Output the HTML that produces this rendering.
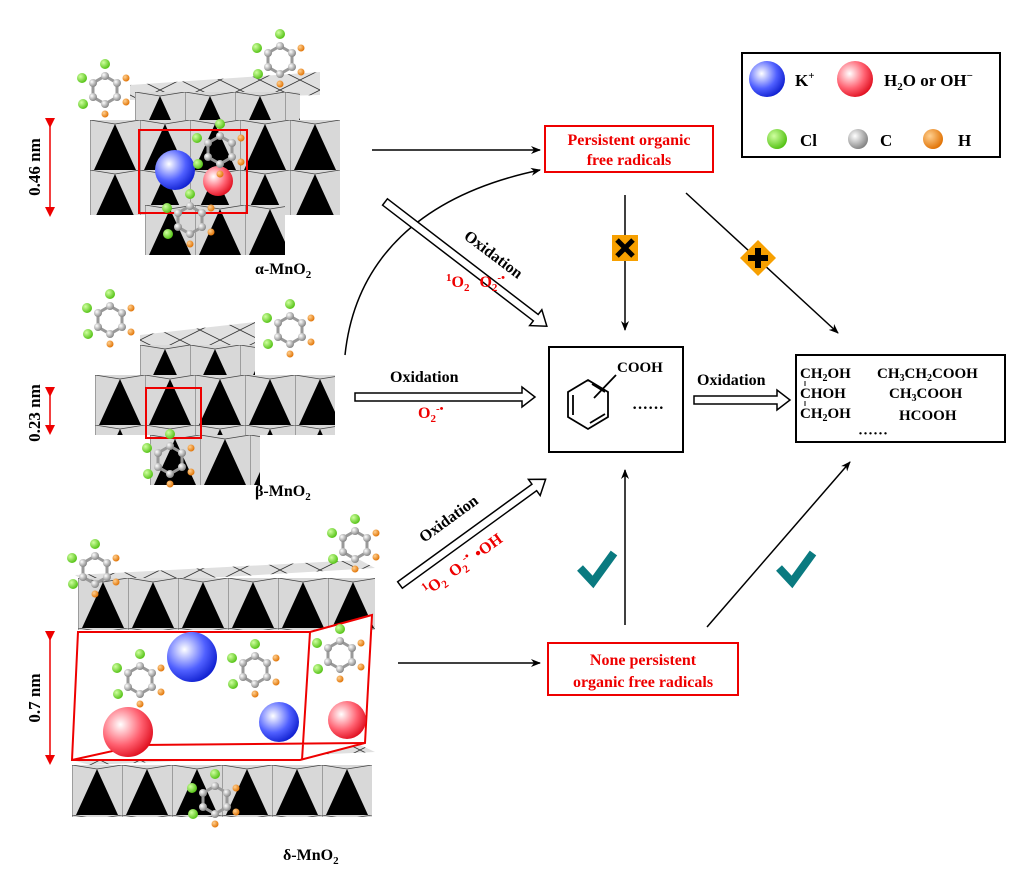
<!DOCTYPE html>
<html><head><meta charset="utf-8"><style>
body{margin:0;background:#fff}
svg{display:block;font-family:"Liberation Serif",serif;font-weight:bold}
</style></head><body>
<svg width="1029" height="892" viewBox="0 0 1029 892" xmlns="http://www.w3.org/2000/svg">
<defs>
<radialGradient id="gb" cx="0.35" cy="0.35" r="0.7"><stop offset="0" stop-color="#fff"/><stop offset="0.6" stop-color="#5060ff"/><stop offset="1" stop-color="#1020d0"/></radialGradient>
<radialGradient id="gr" cx="0.35" cy="0.35" r="0.7"><stop offset="0" stop-color="#fff"/><stop offset="0.6" stop-color="#ff6070"/><stop offset="1" stop-color="#e01020"/></radialGradient>
<radialGradient id="gg" cx="0.35" cy="0.35" r="0.7"><stop offset="0" stop-color="#d0ffa0"/><stop offset="1" stop-color="#50c010"/></radialGradient>
<radialGradient id="gc" cx="0.35" cy="0.35" r="0.7"><stop offset="0" stop-color="#fff"/><stop offset="1" stop-color="#808080"/></radialGradient>
<radialGradient id="go" cx="0.35" cy="0.35" r="0.7"><stop offset="0" stop-color="#ffd090"/><stop offset="1" stop-color="#e07000"/></radialGradient>
<pattern id="oct" width="50" height="50" patternUnits="userSpaceOnUse">
<rect width="50" height="50" fill="#d8d8d8"/>
<polygon points="4,50 25,4 46,50" fill="#000"/>
<path d="M0 0V50M0 0L25 4L50 0" stroke="#444" stroke-width="0.8" fill="none"/>
</pattern>
<pattern id="top" width="40" height="20" patternUnits="userSpaceOnUse">
<rect width="40" height="20" fill="#e0e0e0"/>
<path d="M0 10L20 0L40 10L20 20Z" stroke="#333" stroke-width="0.8" fill="none"/>
</pattern>
<marker id="ah" markerWidth="10" markerHeight="10" refX="9" refY="5" orient="auto" markerUnits="userSpaceOnUse"><path d="M0 1L10 5L0 9L3 5Z" fill="#000"/></marker>
<marker id="rh" markerWidth="10" markerHeight="10" refX="5" refY="5" orient="auto" markerUnits="userSpaceOnUse"><path d="M0 0L10 5L0 10Z" fill="#e00"/></marker>
<g id="mol">
<polygon points="0,-14 12,-7 12,7 0,14 -12,7 -12,-7" fill="none" stroke="#999" stroke-width="3"/>
<circle cx="0" cy="-14" r="4" fill="url(#gc)"/><circle cx="12" cy="-7" r="4" fill="url(#gc)"/><circle cx="12" cy="7" r="4" fill="url(#gc)"/><circle cx="0" cy="14" r="4" fill="url(#gc)"/><circle cx="-12" cy="7" r="4" fill="url(#gc)"/><circle cx="-12" cy="-7" r="4" fill="url(#gc)"/>
<circle cx="0" cy="-26" r="5" fill="url(#gg)"/><circle cx="-23" cy="-12" r="5" fill="url(#gg)"/><circle cx="-22" cy="14" r="5" fill="url(#gg)"/>
<circle cx="21" cy="-12" r="3.5" fill="url(#go)"/><circle cx="21" cy="12" r="3.5" fill="url(#go)"/><circle cx="0" cy="24" r="3.5" fill="url(#go)"/>
</g>
</defs>

<!-- alpha -->
<polygon points="130,85 320,72 320,95 130,100" fill="url(#top)"/>
<g transform="translate(135,92)"><rect width="165" height="30" fill="url(#oct)"/></g>
<g transform="translate(90,120)"><rect width="250" height="95" fill="url(#oct)"/></g>
<g transform="translate(145,205)"><rect width="140" height="50" fill="url(#oct)"/></g>
<rect x="139" y="130" width="108" height="83" fill="none" stroke="#e00" stroke-width="2"/>
<circle cx="175" cy="170" r="20" fill="url(#gb)"/>
<circle cx="218" cy="181" r="15" fill="url(#gr)"/>
<use href="#mol" x="105" y="90"/><use href="#mol" x="280" y="60"/><use href="#mol" x="220" y="150"/><use href="#mol" x="190" y="220"/>
<text x="255" y="274" font-size="16">α-MnO<tspan font-size="11" dy="4">2</tspan></text>
<line x1="50" y1="123" x2="50" y2="212" stroke="#e00" stroke-width="1.5" marker-start="url(#rh)" marker-end="url(#rh)"/>
<text transform="translate(40,167) rotate(-90)" font-size="17" text-anchor="middle">0.46 nm</text>

<!-- beta -->
<polygon points="140,335 255,322 255,345 140,350" fill="url(#top)"/>
<g transform="translate(140,345)"><rect width="115" height="35" fill="url(#oct)"/></g>
<g transform="translate(95,375)"><rect width="240" height="60" fill="url(#oct)"/></g>
<g transform="translate(150,435)"><rect width="110" height="50" fill="url(#oct)"/></g>
<rect x="146" y="388" width="55" height="50" fill="none" stroke="#e00" stroke-width="2"/>
<use href="#mol" x="110" y="320"/><use href="#mol" x="290" y="330"/><use href="#mol" x="170" y="460"/>
<text x="255" y="496" font-size="16">β-MnO<tspan font-size="11" dy="4">2</tspan></text>
<line x1="50" y1="392" x2="50" y2="430" stroke="#e00" stroke-width="1.5" marker-start="url(#rh)" marker-end="url(#rh)"/>
<text transform="translate(40,413) rotate(-90)" font-size="17" text-anchor="middle">0.23 nm</text>

<!-- delta -->
<polygon points="75,575 360,560 375,568 90,585" fill="url(#top)"/>
<g transform="translate(78,578)"><rect width="297" height="52" fill="url(#oct)"/></g>
<polygon points="72,760 360,745 375,752 90,765" fill="url(#top)"/>
<g transform="translate(72,765)"><rect width="300" height="52" fill="url(#oct)"/></g>
<polygon points="78,632 310,632 372,615 365,743 300,760 72,760" fill="#fff" stroke="#e00" stroke-width="2"/>
<path d="M310 632L302 760M72 760L140 745L365 743" stroke="#e00" stroke-width="2" fill="none"/>
<use href="#mol" x="140" y="680"/><use href="#mol" x="255" y="670"/><use href="#mol" x="340" y="655"/>
<use href="#mol" x="95" y="570"/><use href="#mol" x="355" y="545"/><use href="#mol" x="215" y="800"/>
<circle cx="192" cy="657" r="25" fill="url(#gb)"/>
<circle cx="128" cy="732" r="25" fill="url(#gr)"/>
<circle cx="279" cy="722" r="20" fill="url(#gb)"/>
<circle cx="347" cy="720" r="19" fill="url(#gr)"/>
<text x="283" y="860" font-size="16">δ-MnO<tspan font-size="11" dy="4">2</tspan></text>
<line x1="50" y1="636" x2="50" y2="760" stroke="#e00" stroke-width="1.5" marker-start="url(#rh)" marker-end="url(#rh)"/>
<text transform="translate(40,698) rotate(-90)" font-size="17" text-anchor="middle">0.7 nm</text>

<!-- legend -->
<rect x="742" y="53" width="258" height="104" fill="#fff" stroke="#000" stroke-width="2"/>
<circle cx="767" cy="79" r="18" fill="url(#gb)"/><text x="795" y="86" font-size="17">K<tspan font-size="11" dy="-7">+</tspan></text>
<circle cx="855" cy="79" r="18" fill="url(#gr)"/><text x="884" y="86" font-size="17">H<tspan font-size="11" dy="4">2</tspan><tspan dy="-4">O or OH</tspan><tspan font-size="11" dy="-7">−</tspan></text>
<circle cx="777" cy="139" r="10" fill="url(#gg)"/><text x="800" y="146" font-size="17">Cl</text>
<circle cx="858" cy="139" r="10" fill="url(#gc)"/><text x="880" y="146" font-size="17">C</text>
<circle cx="933" cy="139" r="10" fill="url(#go)"/><text x="958" y="146" font-size="17">H</text>

<!-- boxes -->
<rect x="545" y="126" width="168" height="46" fill="#fff" stroke="#e00" stroke-width="2"/>
<text x="629" y="145" font-size="16" fill="#e00" text-anchor="middle">Persistent organic</text>
<text x="629" y="165" font-size="16" fill="#e00" text-anchor="middle">free radicals</text>
<rect x="548" y="643" width="190" height="52" fill="#fff" stroke="#e00" stroke-width="2"/>
<text x="643" y="665" font-size="16" fill="#e00" text-anchor="middle">None persistent</text>
<text x="643" y="687" font-size="16" fill="#e00" text-anchor="middle">organic free radicals</text>

<rect x="549" y="347" width="134" height="105" fill="#fff" stroke="#000" stroke-width="2"/>
<polygon points="588,380 608,392 608,417 588,429 568,417 568,392" fill="none" stroke="#000" stroke-width="1.8"/>
<path d="M573 395V415M590 423L605 414M592 384L605 392M594 398L616 375" stroke="#000" stroke-width="1.8" fill="none"/>
<text x="617" y="372" font-size="15">COOH</text>
<text x="632" y="413" font-size="16">······</text>

<rect x="796" y="355" width="209" height="87" fill="#fff" stroke="#000" stroke-width="2"/>
<g font-size="15">
<text x="800" y="378">CH<tspan font-size="10" dy="3">2</tspan><tspan dy="-3">OH</tspan></text>
<text x="800" y="398">CHOH</text>
<text x="800" y="418">CH<tspan font-size="10" dy="3">2</tspan><tspan dy="-3">OH</tspan></text>
<text x="877" y="378">CH<tspan font-size="10" dy="3">3</tspan><tspan dy="-3">CH</tspan><tspan font-size="10" dy="3">2</tspan><tspan dy="-3">COOH</tspan></text>
<text x="889" y="398">CH<tspan font-size="10" dy="3">3</tspan><tspan dy="-3">COOH</tspan></text>
<text x="899" y="420">HCOOH</text>
<text x="858" y="438">······</text>
</g>
<path d="M805 381V386M805 401V406" stroke="#000"/>

<!-- arrows -->
<g stroke="#000" stroke-width="1.5" fill="none">
<line x1="372" y1="150" x2="540" y2="150" marker-end="url(#ah)"/>
<path d="M345 355C355 260 420 195 540 170" marker-end="url(#ah)"/>
<line x1="625" y1="195" x2="625" y2="330" marker-end="url(#ah)"/>
<line x1="686" y1="193" x2="838" y2="333" marker-end="url(#ah)"/>
<line x1="398" y1="663" x2="540" y2="663" marker-end="url(#ah)"/>
<line x1="625" y1="625" x2="625" y2="470" marker-end="url(#ah)"/>
<line x1="707" y1="627" x2="850" y2="462" marker-end="url(#ah)"/>
</g>
<g fill="#fff" stroke="#000" stroke-width="1.5">
<polygon points="355,393 522,393 522,387 535,397 522,407 522,401 355,401"/>
<polygon points="694,396 777,396 777,390 790,400 777,410 777,404 694,404"/>
<polygon transform="translate(385,202) rotate(37.5)" points="0,-4 190,-4 190,-10 204,0 190,10 190,4 0,4"/>
<polygon transform="translate(400,585) rotate(-36)" points="0,-4 166,-4 166,-10 180,0 166,10 166,4 0,4"/>
</g>
<text transform="translate(463,238) rotate(37)" font-size="16">Oxidation</text>
<text x="446" y="287" font-size="16" fill="#e00"><tspan font-size="11" dy="-6">1</tspan><tspan dy="6">O</tspan><tspan font-size="11" dy="4">2</tspan><tspan dy="-4" dx="10">O</tspan><tspan font-size="11" dy="4">2</tspan><tspan font-size="11" dy="-10">-•</tspan></text>
<text x="390" y="382" font-size="16">Oxidation</text>
<text x="418" y="418" font-size="16" fill="#e00">O<tspan font-size="11" dy="4">2</tspan><tspan font-size="11" dy="-10">-•</tspan></text>
<text x="697" y="385" font-size="16">Oxidation</text>
<text transform="translate(424,543) rotate(-36)" font-size="16">Oxidation</text>
<text transform="translate(428,596) rotate(-36)" font-size="16" fill="#e00"><tspan font-size="11" dy="-6">1</tspan><tspan dy="6">O</tspan><tspan font-size="11" dy="4">2</tspan><tspan dy="-4" dx="8">O</tspan><tspan font-size="11" dy="4">2</tspan><tspan font-size="11" dy="-10">-•</tspan><tspan dy="6" dx="6">•OH</tspan></text>

<!-- icons -->
<rect x="612" y="235" width="26" height="26" fill="#f7a000"/>
<path d="M617 240L633 256M633 240L617 256" stroke="#000" stroke-width="5"/>
<polygon points="758,240 776,258 758,276 740,258" fill="#f7a000"/>
<path d="M758 248V268M748 258H768" stroke="#000" stroke-width="6"/>
<path d="M580 568L593 582L614 553" stroke="#0a7a80" stroke-width="8" fill="none"/>
<path d="M779 568L792 582L813 553" stroke="#0a7a80" stroke-width="8" fill="none"/>
</svg>
</body></html>
